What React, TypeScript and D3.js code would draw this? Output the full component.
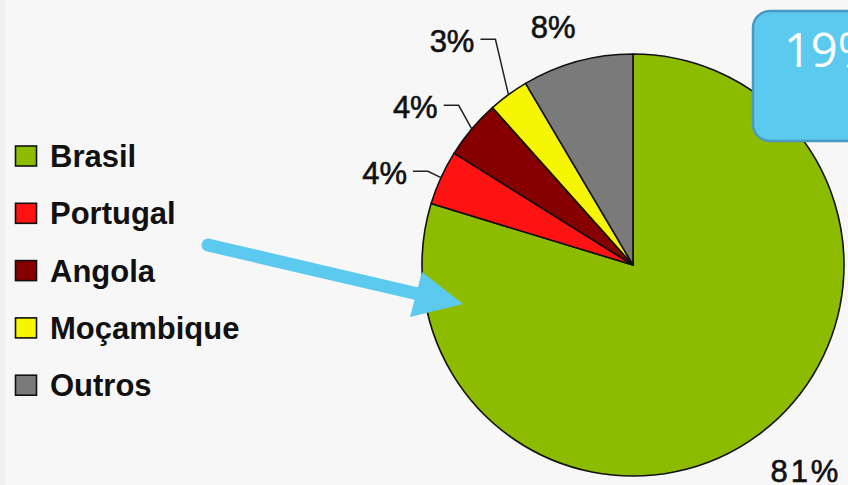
import React from "react";
import * as d3 from "d3";

const categories = ["Brasil", "Portugal", "Angola", "Moçambique", "Outros"];
const values = [79.7, 4.2, 4.5, 3.1, 8.5];
const labels = ["81%", "4%", "4%", "3%", "8%"];
const colors = ["#8CBB00", "#FF1212", "#860000", "#F6F600", "#7A7A7A"];
const calloutText = "19%";

const W = 848;
const H = 485;
const cx = 633;
const cy = 265;
const r = 211;

export default function App() {
  const pie = d3.pie<number>().sort(null).startAngle(0).endAngle(2 * Math.PI);
  const arcs = pie(values);
  const arcGen = d3.arc<d3.PieArcDatum<number>>().innerRadius(0).outerRadius(r);

  const pt = (a: number, rad: number) => [cx + rad * Math.sin(a), cy - rad * Math.cos(a)];

  // leader labels for small slices on the left (indices 1..3), resolved bottom-up
  const leaderIdx = [1, 2, 3];
  const leaderY: Record<number, number> = {};
  let prev = Infinity;
  leaderIdx.forEach((i) => {
    const a = (arcs[i].startAngle + arcs[i].endAngle) / 2;
    const natural = cy - (r + 15) * Math.cos(a);
    const y = Math.min(natural, prev - 66);
    leaderY[i] = y;
    prev = y;
  });

  const legendY0 = 156;
  const legendStep = 57.3;

  return (
    <div>
      <style>{`body{margin:0;background:#f7f7f7}`}</style>
      <svg width={W} height={H} style={{ display: "block", background: "#f7f7f7" }}>
        <rect x={0} y={0} width={W} height={H} fill="#f7f7f7" />
        <rect x={0} y={0} width={5} height={H} fill="#f0f0f0" />
        {/* pie */}
        <g transform={`translate(${cx},${cy})`}>
          {arcs.map((d, i) => (
            <path key={i} d={arcGen(d) || ""} fill={colors[i]} stroke="#111" strokeWidth={1.6} strokeLinejoin="round" />
          ))}
        </g>
        {/* labels */}
        {arcs.map((d, i) => {
          const a = (d.startAngle + d.endAngle) / 2;
          const font = {
            fontFamily: "'Liberation Sans', Arial, sans-serif",
            fontSize: 31,
            fill: "#111",
            stroke: "#111",
            strokeWidth: 0.6,
          };
          if (leaderIdx.includes(i)) {
            const [px, py] = pt(a, r);
            const ly = leaderY[i];
            const ex = px - 13;
            return (
              <g key={i}>
                <polyline
                  points={`${px},${py} ${ex},${ly} ${px - 28},${ly}`}
                  fill="none"
                  stroke="#222"
                  strokeWidth={1.5}
                />
                <text x={px - 34} y={ly + 13} textAnchor="end" {...font}>
                  {labels[i]}
                </text>
              </g>
            );
          }
          if (i === 0) {
            const [lx, ly] = pt(a, r + 50);
            return (
              <text key={i} x={lx - 18} y={ly + 7} textAnchor="start" letterSpacing={3} {...font}>
                {labels[i]}
              </text>
            );
          }
          const [lx, ly] = pt(a, r + 35);
          return (
            <text key={i} x={lx - 15} y={ly + 10} textAnchor="middle" {...font}>
              {labels[i]}
            </text>
          );
        })}
        {/* legend */}
        {categories.map((c, i) => {
          const y = legendY0 + i * legendStep;
          return (
            <g key={c}>
              <rect x={15.5} y={y - 10} width={21} height={20} fill={colors[i]} stroke="#111" strokeWidth={1.6} />
              <text
                x={50}
                y={y + 11}
                fontFamily="'Liberation Sans', Arial, sans-serif"
                fontWeight="bold"
                fontSize={31}
                fill="#111"
              >
                {c}
              </text>
            </g>
          );
        })}
        {/* arrow annotation */}
        <line x1={208} y1={245} x2={418} y2={294} stroke="#5CC9EF" strokeWidth={13} strokeLinecap="round" />
        <polygon points="422,272 463,304 410,317" fill="#5CC9EF" />
        {/* callout box */}
        <rect x={753} y={11} width={130} height={130} rx={17} fill="#5CC9EF" stroke="#4A9BBF" strokeWidth={2.5} />
        <text x={784} y={67} fontFamily="'Open Sans', sans-serif" fontSize={47} fill="#fff">
          {calloutText}
        </text>
      </svg>
    </div>
  );
}
